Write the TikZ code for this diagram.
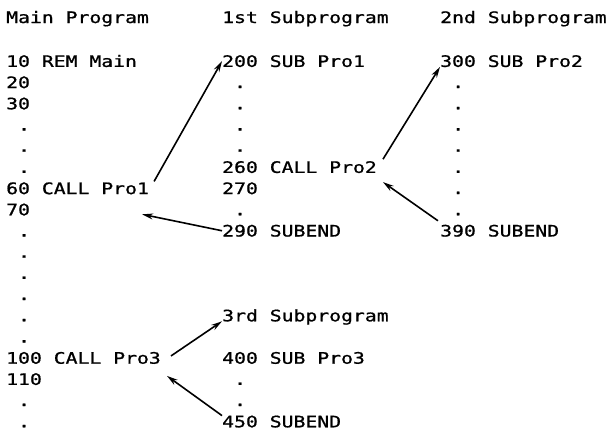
\documentclass[tikz,border=0pt]{standalone}
\usepackage{fontspec}
\setmonofont[FakeStretch=1.25,FakeBold=1]{DejaVu Sans Mono}
\usetikzlibrary{arrows.meta}

\tikzset{
    codeline/.style={anchor=base west, inner sep=0pt, text height=11.5pt, text depth=0pt,
        font=\fontsize{15.8}{19}\selectfont\ttfamily},
    callarrow/.style={-{Stealth[length=11pt,width=6pt]}, line width=1.6pt}
}

\begin{document}
\begin{tikzpicture}[x=1pt, y=-1pt]
    \useasboundingbox (0,0) rectangle (609,431);
    \node [codeline] (mainhead) at (6,23) {Main Program};
    \node [codeline] (sub1head) at (222,23) {1st Subprogram};
    \node [codeline] (sub2head) at (440,23) {2nd Subprogram};
    \foreach \r/\n/\t in {2/m10/10 REM Main, 3/m20/20, 4/m30/30, 8/m60/60 CALL Pro1,
        9/m70/70, 16/m100/100 CALL Pro3, 17/m110/110}
        \node [codeline] (\n) at (6,{24.5+21.2*\r}) {\t};
    \foreach \r/\n/\t in {2/s200/200 SUB Pro1, 7/s260/260 CALL Pro2, 8/s270/270,
        10/s290/290 SUBEND, 14/sub3head/3rd Subprogram, 16/s400/400 SUB Pro3, 19/s450/450 SUBEND}
        \node [codeline] (\n) at (222,{24.5+21.2*\r}) {\t};
    \foreach \r/\n/\t in {2/s300/300 SUB Pro2, 10/s390/390 SUBEND}
        \node [codeline] (\n) at (440,{24.5+21.2*\r}) {\t};
    \foreach \r in {5,6,7,10,11,12,13,14,15,18,19}
        \node [codeline] (mdot\r) at (17.9,{24.5+21.2*\r}) {.};
    \foreach \r in {3,4,5,6,9,17,18}
        \node [codeline] (sadot\r) at (233.9,{24.5+21.2*\r}) {.};
    \foreach \r in {3,...,9}
        \node [codeline] (sbdot\r) at (451.9,{24.5+21.2*\r}) {.};
    \draw [callarrow] ([xshift=5pt,yshift=1pt]m60.north east) -- (s200.west);
    \draw [callarrow] (s290.west) -- ([xshift=-7pt,yshift=-20pt]m60.south east);
    \draw [callarrow] ([xshift=6pt,yshift=2pt]s260.north east) -- (s300.base west);
    \draw [callarrow] ([xshift=-2pt,yshift=4pt]s390.north west) -- ([xshift=6pt,yshift=-9pt]s260.south east);
    \draw [callarrow] ([xshift=10pt,yshift=2pt]m100.east) -- (sub3head.base west);
    \draw [callarrow] (s450.north west) -- ([xshift=6pt,yshift=-12pt]m100.south east);
\end{tikzpicture}
\end{document}
